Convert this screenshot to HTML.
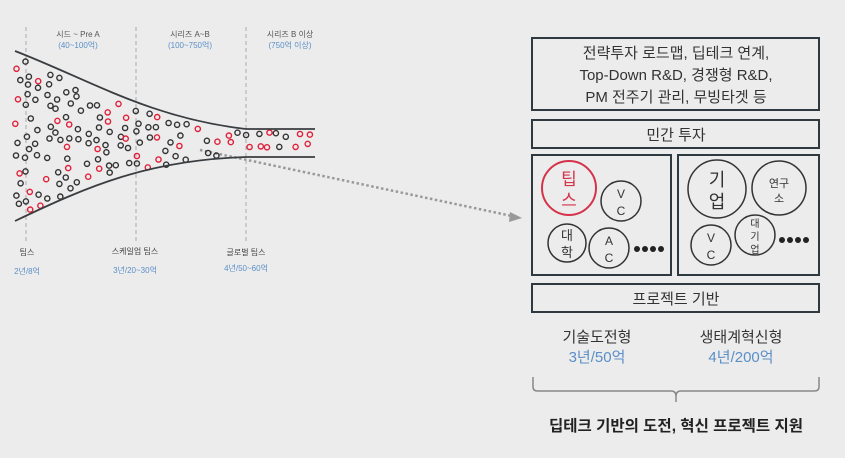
<!DOCTYPE html>
<html><head><meta charset="utf-8"><style>
html,body{margin:0;padding:0;background:#ebebeb;}
svg{display:block;font-family:"Liberation Sans","Noto Sans CJK KR",sans-serif;}
</style></head><body>
<svg id="s" width="845" height="458" viewBox="0 0 845 458" xmlns="http://www.w3.org/2000/svg">
<rect width="845" height="458" fill="#ececec"/>
<g stroke="#aaa" stroke-width="1" stroke-dasharray="4,3">
<line x1="26" y1="27" x2="26" y2="242"/>
<line x1="136" y1="27" x2="136" y2="242"/>
<line x1="246" y1="27" x2="246" y2="242"/>
</g>
<g font-size="8" text-anchor="middle">
<text x="78" y="37" fill="#555">시드 ~ Pre A</text>
<text x="78" y="48" fill="#5b8fc7">(40~100억)</text>
<text x="190" y="37" fill="#555">시리즈 A~B</text>
<text x="190" y="48" fill="#5b8fc7">(100~750억)</text>
<text x="290" y="37" fill="#555">시리즈 B 이상</text>
<text x="290" y="48" fill="#5b8fc7">(750억 이상)</text>
<text x="27" y="255" fill="#444">팁스</text>
<text x="27" y="274" fill="#5b8fc7">2년/8억</text>
<text x="135" y="254" fill="#444">스케일업 팁스</text>
<text x="135" y="273" fill="#5b8fc7">3년/20~30억</text>
<text x="246" y="255" fill="#444">글로벌 팁스</text>
<text x="246" y="271" fill="#5b8fc7">4년/50~60억</text>
</g>
<line x1="200" y1="150" x2="512" y2="216" stroke="#999" stroke-width="2.5" stroke-dasharray="2.5,2.5"/>
<polygon points="522,218 510,212 509,222" fill="#999"/>
<g id="dots"></g>
<g fill="none" stroke="#3a3d40" stroke-width="1.8">
<path d="M15,51 C90,80 150,118 246,129 L315,129"/>
<path d="M15,221 C90,185 150,160 246,157 L315,157"/>
</g>
<g fill="none" stroke="#2e3a40" stroke-width="2">
<rect x="532" y="38" width="287" height="72"/>
<rect x="532" y="120" width="287" height="28"/>
<rect x="532" y="155" width="139" height="120"/>
<rect x="678" y="155" width="141" height="120"/>
<rect x="532" y="284" width="287" height="28"/>
</g>
<g font-size="15" fill="#333" text-anchor="middle">
<text x="676" y="58">전략투자 로드맵, 딥테크 연계,</text>
<text x="676" y="80">Top-Down R&amp;D, 경쟁형 R&amp;D,</text>
<text x="676" y="102">PM 전주기 관리, 무빙타겟 등</text>
<text x="676" y="140">민간 투자</text>
<text x="676" y="304">프로젝트 기반</text>
<text x="597" y="342">기술도전형</text>
<text x="741" y="342">생태계혁신형</text>
<text x="597" y="362" fill="#5b8fc7">3년/50억</text>
<text x="741" y="362" fill="#5b8fc7">4년/200억</text>
<text x="676" y="431" font-weight="bold" font-size="15.5" fill="#222">딥테크 기반의 도전, 혁신 프로젝트 지원</text>
</g>
<path d="M533,377 L533,387 Q533,391 538,391 L671,391 Q676,391 676,396 L676,402 M676,396 Q676,391 681,391 L814,391 Q819,391 819,387 L819,377" fill="none" stroke="#888" stroke-width="1.5"/>
<g fill="none" stroke="#333" stroke-width="1.5">
<circle cx="569" cy="188" r="27" stroke="#d4334a" stroke-width="2"/>
<circle cx="621" cy="201" r="20"/>
<circle cx="567" cy="243" r="19"/>
<circle cx="609" cy="248" r="20"/>
<circle cx="717" cy="189" r="29"/>
<circle cx="779" cy="188" r="27"/>
<circle cx="755" cy="235" r="20"/>
<circle cx="711" cy="245" r="20"/>
</g>
<g fill="#222">
<circle cx="637" cy="249" r="3"/><circle cx="645" cy="249" r="3"/><circle cx="653" cy="249" r="3"/><circle cx="661" cy="249" r="3"/>
<circle cx="782" cy="240" r="3"/><circle cx="790" cy="240" r="3"/><circle cx="798" cy="240" r="3"/><circle cx="806" cy="240" r="3"/>
</g>
<g text-anchor="middle" fill="#333">
<text x="569" y="185" font-size="17" fill="#d4334a">팁</text>
<text x="569" y="206" font-size="17" fill="#d4334a">스</text>
<text x="621" y="198" font-size="12">V</text><text x="621" y="215" font-size="12">C</text>
<text x="567" y="240" font-size="13">대</text><text x="567" y="257" font-size="13">학</text>
<text x="609" y="245" font-size="12">A</text><text x="609" y="262" font-size="12">C</text>
<text x="717" y="186" font-size="18">기</text><text x="717" y="208" font-size="18">업</text>
<text x="779" y="187" font-size="11">연구</text><text x="779" y="202" font-size="11">소</text>
<text x="755" y="227" font-size="10">대</text><text x="755" y="240" font-size="10">기</text><text x="755" y="253" font-size="10">업</text>
<text x="711" y="242" font-size="12">V</text><text x="711" y="259" font-size="12">C</text>
</g>
</svg>
<script>
(function(){
var g=document.getElementById('dots');var seed=7;
function r(){seed=(seed*9301+49297)%233280;return seed/233280;}
function top(x){ if(x>=246) return 129; var t=(x-15)/231; return 51+ (129-51)*(1-Math.pow(1-t,1.6));}
function bot(x){ if(x>=246) return 157; var t=(x-15)/231; return 221- (221-157)*(1-Math.pow(1-t,1.6));}
var s='';
for(var x=18;x<312;x+=10){
  var tp=top(x)+6, bt=bot(x)-4;
  for(var y=tp;y<bt;y+=10.5){
    var cx=x+(r()-0.5)*6, cy=y+(r()-0.5)*5;
    if(r()<0.2) continue;
    var red = r() < (x>250?0.6:0.22);
    s+='<circle cx="'+cx.toFixed(1)+'" cy="'+cy.toFixed(1)+'" r="2.6" fill="none" stroke="'+(red?'#e0203a':'#333')+'" stroke-width="1.4"/>';
  }
}
g.innerHTML=s;
})();
</script>
</body></html>
